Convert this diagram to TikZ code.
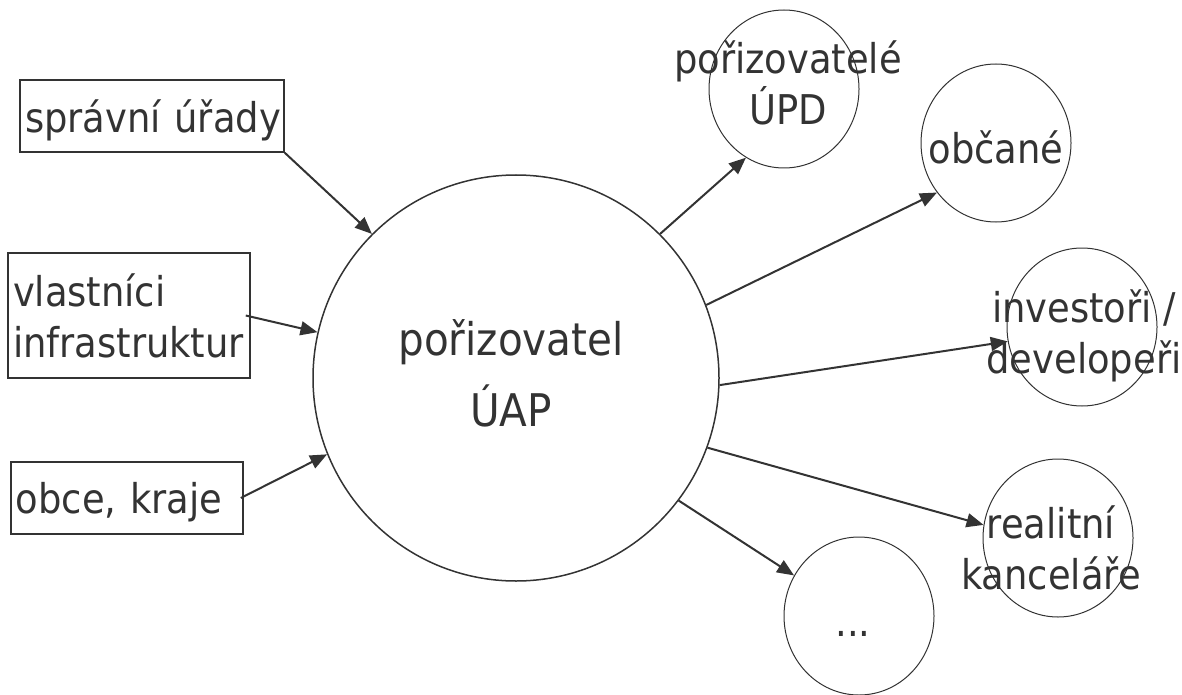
\documentclass[tikz,border=0pt]{standalone}
\usepackage{fontspec}
\setmainfont{DejaVu Sans Condensed}
\usetikzlibrary{arrows.meta,shapes.geometric}
\definecolor{ink}{HTML}{333333}

\begin{document}
\begin{tikzpicture}[x=1pt, y=-1pt,
    srcbox/.style={draw=ink, line width=1.5pt, rectangle, inner xsep=5pt, inner ysep=0pt,
      align=left, text=ink, font=\fontsize{41}{51}\selectfont},
    hub/.style={draw=ink, line width=1.5pt, circle, minimum size=406pt, inner sep=0pt},
    hlbl/.style={align=center, text=ink, font=\fontsize{45}{71}\selectfont},
    party/.style={draw=ink, line width=1pt, ellipse, minimum width=150pt, minimum height=158pt,
      inner sep=0pt},
    plbl/.style={align=center, text=ink, font=\fontsize{41}{51}\selectfont},
    flow/.style={draw=ink, line width=2pt, -{Triangle[length=17pt,width=14pt]}}]
      \useasboundingbox (0,0) rectangle (1182,695);

      % sources on the left
      \node[srcbox, text depth=0pt, text width=254pt, minimum height=72pt] (sprava) at (152,116) {správní~úřady};
      \node[srcbox, text width=232pt, minimum height=125pt] (vlastnici) at (129,315.5) {vlastníci\\infrastruktur};
      \node[srcbox, text depth=0pt, text width=222pt, minimum height=72pt] (obce) at (127,498) {obce,~kraje};

      % central office
      \node[hub, label={[hlbl, xshift=-5pt, yshift=5pt]center:{pořizovatel\\ÚAP}}] (uap) at (516,378) {};

      % users on the right
      \node[party, label={[plbl, xshift=4pt, yshift=6pt]center:{pořizovatelé\\ÚPD}}] (upd) at (784,89) {};
      \node[party, label={[plbl, yshift=-4pt]center:{občané}}] (obcane) at (996,143) {};
      \node[party, label={[plbl, xshift=2pt, yshift=-9pt]center:{investoři /\\developeři}}] (inv) at (1082,327) {};
      \node[party, label={[plbl, xshift=-7pt, yshift=-10pt]center:{realitní\\kanceláře}}] (real) at (1058,538) {};
      \node[party, label={[plbl, xshift=-6pt, yshift=-18pt]center:{...}}] (dots) at (859,616) {};

      \draw[flow] (sprava.south east) -- (uap.135);
      \draw[flow] ([xshift=-5pt]vlastnici.east) -- (uap.167);
      \draw[flow] ([xshift=-3pt]obce.east) -- (uap.202);

      \draw[flow] (uap.45) -- (upd.241);
      \draw[flow] (uap.21) -- (obcane.220);
      \draw[flow] (uap.-2) -- (inv.191);
      \draw[flow] (uap.-20) -- (real.170);
      \draw[flow] (uap.-37) -- (dots.148);
\end{tikzpicture}
\end{document}
